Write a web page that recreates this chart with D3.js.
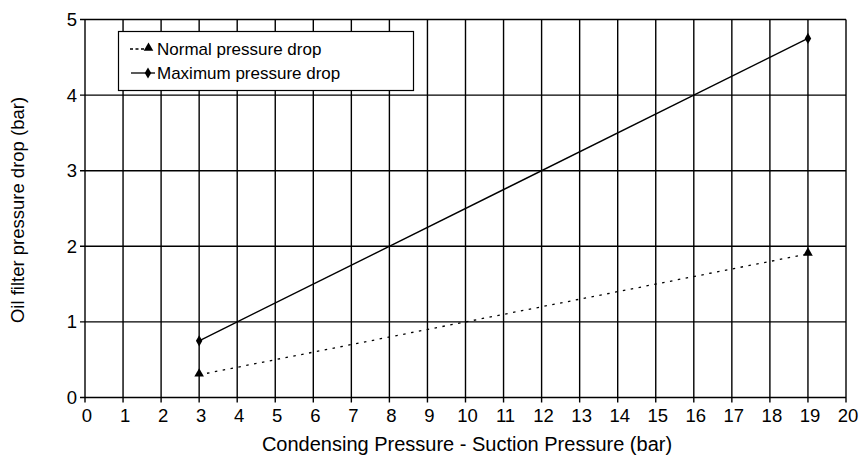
<!DOCTYPE html>
<html lang="en">
<head>
    <meta charset="UTF-8">
    <title>Oil filter pressure drop</title>
    <script src="https://cdnjs.cloudflare.com/ajax/libs/d3/7.8.5/d3.min.js"></script>
    <style>
        body { margin: 0; background: #fff; }
        svg text { font-family: "Liberation Sans", Arial, sans-serif; fill: #000; }
    </style>
</head>
<body>
<svg id="chart" width="861" height="463"></svg>
<script>
    let xTicks = [0, 1, 2, 3, 4, 5, 6, 7, 8, 9, 10, 11, 12, 13, 14, 15, 16, 17, 18, 19, 20];
    let yTicks = [0, 1, 2, 3, 4, 5];
    let normalX = [3, 19];
    let normalY = [0.3, 1.9];
    let maxX = [3, 19];
    let maxY = [0.75, 4.75];

    let svg = d3.select("#chart");
    let plotLeft = 85, plotRight = 846, plotTop = 19.5, plotBottom = 397.5;

    let x = d3.scaleLinear().domain([0, 20]).range([plotLeft, plotRight]);
    let y = d3.scaleLinear().domain([0, 5]).range([plotBottom, plotTop]);

    // grid + outside ticks
    let grid = svg.append("g").attr("stroke", "#000").attr("stroke-width", 1.4);
    xTicks.forEach(function (t) {
        grid.append("line").attr("x1", x(t)).attr("x2", x(t)).attr("y1", plotTop).attr("y2", plotBottom + 5);
    });
    yTicks.forEach(function (t) {
        grid.append("line").attr("x1", plotLeft - 5).attr("x2", plotRight).attr("y1", y(t)).attr("y2", y(t));
    });

    // tick labels
    svg.append("g").selectAll("text").data(xTicks).enter().append("text")
        .attr("x", d => x(d) + 2).attr("y", plotBottom + 24)
        .attr("text-anchor", "middle").attr("font-size", 18.5).text(d => d);
    svg.append("g").selectAll("text").data(yTicks).enter().append("text")
        .attr("x", plotLeft - 8).attr("y", d => y(d) + 6.5)
        .attr("text-anchor", "end").attr("font-size", 18.5).text(d => d);

    // axis titles
    svg.append("text").attr("x", 467).attr("y", 451).attr("text-anchor", "middle")
        .attr("font-size", 20).text("Condensing Pressure - Suction Pressure (bar)");
    svg.append("text").attr("transform", "translate(24,210) rotate(-90)").attr("text-anchor", "middle")
        .attr("font-size", 18.5).text("Oil filter pressure drop (bar)");

    let line = d3.line().x(d => x(d[0])).y(d => y(d[1]));
    let normal = normalX.map((v, i) => [v, normalY[i]]);
    let maximum = maxX.map((v, i) => [v, maxY[i]]);

    svg.append("path").datum(normal).attr("d", line).attr("fill", "none")
        .attr("stroke", "#000").attr("stroke-width", 1.3).attr("stroke-dasharray", "2.5,5.5");
    svg.append("path").datum(maximum).attr("d", line).attr("fill", "none")
        .attr("stroke", "#000").attr("stroke-width", 1.4);

    let tri = d3.symbol().type(d3.symbolTriangle).size(40);
    let dia = d3.symbol().type(d3.symbolDiamond).size(36);
    svg.selectAll(".tri").data(normal).enter().append("path")
        .attr("transform", d => "translate(" + x(d[0]) + "," + (y(d[1]) - 1) + ")")
        .attr("d", tri).attr("fill", "#000");
    svg.selectAll(".dia").data(maximum).enter().append("path")
        .attr("transform", d => "translate(" + x(d[0]) + "," + y(d[1]) + ")")
        .attr("d", dia).attr("fill", "#000");

    // legend
    let lg = svg.append("g");
    lg.append("rect").attr("x", 118.5).attr("y", 31.5).attr("width", 295).attr("height", 59)
        .attr("fill", "#fff").attr("stroke", "#000").attr("stroke-width", 1.2);
    lg.append("line").attr("x1", 130).attr("x2", 148).attr("y1", 49).attr("y2", 49)
        .attr("stroke", "#000").attr("stroke-width", 1.5).attr("stroke-dasharray", "3,2.5");
    lg.append("path").attr("transform", "translate(148.5,48)").attr("d", tri).attr("fill", "#000");
    lg.append("text").attr("x", 157).attr("y", 55).attr("font-size", 17).text("Normal pressure drop");
    lg.append("line").attr("x1", 131).attr("x2", 155).attr("y1", 73).attr("y2", 73)
        .attr("stroke", "#000").attr("stroke-width", 1.3);
    lg.append("path").attr("transform", "translate(148,73)").attr("d", dia).attr("fill", "#000");
    lg.append("text").attr("x", 157).attr("y", 79).attr("font-size", 17).text("Maximum pressure drop");
</script>
</body>
</html>
